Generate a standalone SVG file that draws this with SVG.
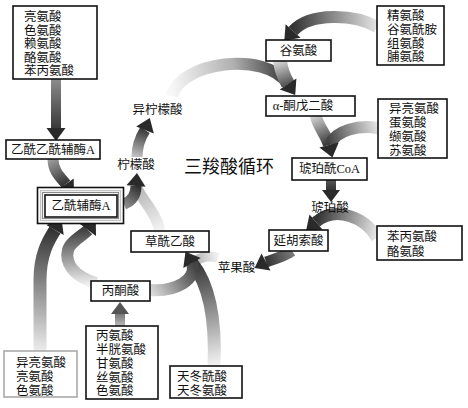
<svg xmlns="http://www.w3.org/2000/svg" width="468" height="408" viewBox="0 0 468 408">
<style>
.box{fill:#fff;stroke:#111;stroke-width:1.6}
.t{font-family:"Liberation Serif","Noto Sans CJK SC",serif;font-size:12.5px;fill:#111;dominant-baseline:central}
.c{text-anchor:middle}
.s{fill:none;stroke-linecap:butt}
.h{fill:#2a2a2a}
</style>
<defs>
<linearGradient id="gA" gradientUnits="userSpaceOnUse" x1="56" y1="79" x2="56" y2="128"><stop offset="0" stop-color="#8c8c8c"/><stop offset="1" stop-color="#3a3a3a"/></linearGradient>
<linearGradient id="gB" gradientUnits="userSpaceOnUse" x1="53" y1="159" x2="66" y2="184"><stop offset="0" stop-color="#9a9a9a"/><stop offset="1" stop-color="#333"/></linearGradient>
<linearGradient id="gC" gradientUnits="userSpaceOnUse" x1="124" y1="204" x2="136" y2="186"><stop offset="0" stop-color="#8a8a8a"/><stop offset="1" stop-color="#333"/></linearGradient>
<linearGradient id="gQ" gradientUnits="userSpaceOnUse" x1="160" y1="231" x2="137" y2="188"><stop offset="0" stop-color="#f4f4f4"/><stop offset="1" stop-color="#b5b5b5"/></linearGradient>
<linearGradient id="gD" gradientUnits="userSpaceOnUse" x1="137" y1="157" x2="145" y2="130"><stop offset="0" stop-color="#c0c0c0"/><stop offset="1" stop-color="#3a3a3a"/></linearGradient>
<linearGradient id="gE" gradientUnits="userSpaceOnUse" x1="172" y1="96" x2="288" y2="84"><stop offset="0" stop-color="#f8f8f8"/><stop offset="0.55" stop-color="#b0b0b0"/><stop offset="1" stop-color="#333"/></linearGradient>
<linearGradient id="gGlu" gradientUnits="userSpaceOnUse" x1="280" y1="61" x2="288" y2="84"><stop offset="0" stop-color="#d4d4d4"/><stop offset="1" stop-color="#555"/></linearGradient>
<linearGradient id="gH" gradientUnits="userSpaceOnUse" x1="377" y1="27" x2="293" y2="31"><stop offset="0" stop-color="#e4e4e4"/><stop offset="1" stop-color="#333"/></linearGradient>
<linearGradient id="gF" gradientUnits="userSpaceOnUse" x1="316" y1="116" x2="329" y2="145"><stop offset="0" stop-color="#cfcfcf"/><stop offset="1" stop-color="#333"/></linearGradient>
<linearGradient id="gG" gradientUnits="userSpaceOnUse" x1="378" y1="128" x2="330" y2="144"><stop offset="0" stop-color="#e4e4e4"/><stop offset="1" stop-color="#444"/></linearGradient>
<linearGradient id="gI" gradientUnits="userSpaceOnUse" x1="331" y1="180" x2="331" y2="190"><stop offset="0" stop-color="#555"/><stop offset="1" stop-color="#333"/></linearGradient>
<linearGradient id="gJ" gradientUnits="userSpaceOnUse" x1="377" y1="238" x2="316" y2="222"><stop offset="0" stop-color="#ececec"/><stop offset="1" stop-color="#333"/></linearGradient>
<linearGradient id="gK" gradientUnits="userSpaceOnUse" x1="292" y1="251" x2="266" y2="262"><stop offset="0" stop-color="#7a7a7a"/><stop offset="1" stop-color="#333"/></linearGradient>
<linearGradient id="gL" gradientUnits="userSpaceOnUse" x1="218" y1="258" x2="192" y2="263"><stop offset="0" stop-color="#f2f2f2"/><stop offset="1" stop-color="#aaa"/></linearGradient>
<linearGradient id="gAsp" gradientUnits="userSpaceOnUse" x1="214" y1="366" x2="192" y2="263"><stop offset="0" stop-color="#f4f4f4"/><stop offset="1" stop-color="#333"/></linearGradient>
<linearGradient id="gPyr" gradientUnits="userSpaceOnUse" x1="150" y1="290" x2="192" y2="263"><stop offset="0" stop-color="#dadada"/><stop offset="1" stop-color="#444"/></linearGradient>
<linearGradient id="gO" gradientUnits="userSpaceOnUse" x1="40" y1="351" x2="55" y2="230"><stop offset="0" stop-color="#ececec"/><stop offset="1" stop-color="#333"/></linearGradient>
<linearGradient id="gN" gradientUnits="userSpaceOnUse" x1="92" y1="285" x2="88" y2="230"><stop offset="0" stop-color="#f2f2f2"/><stop offset="1" stop-color="#444"/></linearGradient>
<linearGradient id="gP" gradientUnits="userSpaceOnUse" x1="120" y1="326" x2="120" y2="314"><stop offset="0" stop-color="#bbb"/><stop offset="1" stop-color="#777"/></linearGradient>
</defs>
<rect width="468" height="408" fill="#fff"/>

<g id="connectors">
  <path class="s" d="M56,79 L56,128" stroke="url(#gA)" stroke-width="10"/>
  <path class="s" d="M53,159 C53,171 60,177 66,184" stroke="url(#gB)" stroke-width="11"/>
  <path class="s" d="M160,231 C156,212 142,200 137,188" stroke="url(#gQ)" stroke-width="11"/>
  <path class="s" d="M124,204 C132,201 136,195 136,186" stroke="url(#gC)" stroke-width="11"/>
  <path class="s" d="M137,157 C137,146 140,138 145,130" stroke="url(#gD)" stroke-width="11"/>
  <path class="s" d="M172,96 C180,62 265,50 288,84" stroke="url(#gE)" stroke-width="12"/>
  <path class="s" d="M280,61 C281,70 284,77 288,84" stroke="url(#gGlu)" stroke-width="14"/>
  <path class="s" d="M377,27 C355,14 310,12 293,31" stroke="url(#gH)" stroke-width="12"/>
  <path class="s" d="M316,116 C318,127 326,134 329,145" stroke="url(#gF)" stroke-width="12"/>
  <path class="s" d="M378,128 C358,125 337,130 330,144" stroke="url(#gG)" stroke-width="12"/>
  <path class="s" d="M331,180 L331,190" stroke="url(#gI)" stroke-width="10"/>
  <path class="s" d="M377,238 C366,218 336,205 316,222" stroke="url(#gJ)" stroke-width="12"/>
  <path class="s" d="M292,251 C285,256 275,259 266,262" stroke="url(#gK)" stroke-width="11"/>
  <path class="s" d="M218,258 C210,255 200,257 192,263" stroke="url(#gL)" stroke-width="10"/>
  <path class="s" d="M214,366 C216,320 210,285 192,263" stroke="url(#gAsp)" stroke-width="13"/>
  <path class="s" d="M150,290 C175,292 198,280 192,263" stroke="url(#gPyr)" stroke-width="12"/>
  <path class="s" d="M40,351 L40,280 C40,255 48,241 55,230" stroke="url(#gO)" stroke-width="13"/>
  <path class="s" d="M96,283 C72,276 65,262 68,250 C70,242 82,236 88,230" stroke="url(#gN)" stroke-width="12"/>
  <path class="s" d="M120,326 L120,314" stroke="url(#gP)" stroke-width="10"/>
  <polygon class="h" points="56,141 46.5,128 65.5,128"/>
  <polygon class="h" points="74,195 73.7,178.4 58.3,189.6"/>
  <polygon class="h" points="137,173 145.5,186.7 126.5,185.3"/>
  <polygon class="h" points="149.8,117.9 153.8,133.5 136.2,126.5"/>
  <polygon class="h" points="295.2,94.9 296.4,78.5 279.7,89.5"/>
  <polygon class="h" points="284.3,40.7 300.5,37.7 285.6,24.3"/>
  <polygon class="h" points="332.4,157.5 338.7,142.4 319.4,147.6"/>
  <polygon class="h" points="331,202 322,190 340,190"/>
  <polygon class="h" points="306.1,230.4 322.5,229.6 309.5,214.4"/>
  <polygon class="h" points="254.6,268.1 270.5,270.4 261.5,253.6"/>
  <polygon class="h" points="185.5,251.7 200.7,258 183.3,268"/>
  <polygon class="h" points="61.5,218.7 63.7,235 46.3,225"/>
  <polygon class="h" points="95.8,219.6 96,236 80,224"/>
  <polygon points="120,302 111,314 129,314" fill="#555"/>
</g>

<g id="n-aa1">
  <rect class="box" x="13" y="6" width="84" height="73"/>
  <text class="t" x="24" y="17">亮氨酸</text>
  <text class="t" x="24" y="30.5">色氨酸</text>
  <text class="t" x="24" y="44">赖氨酸</text>
  <text class="t" x="24" y="57.5">酪氨酸</text>
  <text class="t" x="24" y="71">苯丙氨酸</text>
</g>
<g id="n-acetoacetyl">
  <rect class="box" x="6" y="140" width="94" height="19"/>
  <text class="t c" x="53" y="150">乙酰乙酰辅酶A</text>
</g>
<g id="n-acetylcoa">
  <rect class="box" x="37.5" y="187.5" width="86" height="36"/>
  <rect x="40.5" y="190.5" width="80" height="30" fill="none" stroke="#c4c4c4" stroke-width="1.2"/>
  <rect x="42.5" y="192.5" width="76" height="26" fill="none" stroke="#8a8a8a" stroke-width="1.2"/>
  <rect class="box" x="45" y="195" width="72" height="22"/>
  <text class="t c" x="81" y="206">乙酰辅酶A</text>
</g>
<g id="n-glu">
  <rect class="box" x="266" y="40" width="65" height="21"/>
  <text class="t c" x="298.5" y="51">谷氨酸</text>
</g>
<g id="n-aa2">
  <rect class="box" x="377" y="6" width="67" height="59"/>
  <text class="t" x="387" y="16">精氨酸</text>
  <text class="t" x="387" y="30">谷氨酰胺</text>
  <text class="t" x="387" y="43.5">组氨酸</text>
  <text class="t" x="387" y="57">脯氨酸</text>
</g>
<g id="n-akg">
  <rect class="box" x="266" y="96" width="89" height="20"/>
  <text class="t c" x="303" y="106">α-酮戊二酸</text>
</g>
<g id="n-aa3">
  <rect class="box" x="378" y="99" width="69" height="59"/>
  <text class="t" x="389" y="109">异亮氨酸</text>
  <text class="t" x="389" y="123">蛋氨酸</text>
  <text class="t" x="389" y="137">缬氨酸</text>
  <text class="t" x="389" y="151">苏氨酸</text>
</g>
<g id="n-succoa">
  <rect class="box" x="292" y="158" width="75" height="22"/>
  <text class="t c" x="329.5" y="169">琥珀酰CoA</text>
</g>
<g id="n-succ">
  <text class="t c" x="330" y="208">琥珀酸</text>
</g>
<g id="n-fum">
  <rect class="box" x="269" y="230" width="59" height="21"/>
  <text class="t c" x="298.5" y="241">延胡索酸</text>
</g>
<g id="n-aa4">
  <rect class="box" x="377" y="226" width="85" height="34"/>
  <text class="t" x="387" y="237">苯丙氨酸</text>
  <text class="t" x="387" y="252">酪氨酸</text>
</g>
<g id="n-mal">
  <text class="t c" x="236.5" y="268">苹果酸</text>
</g>
<g id="n-oaa">
  <rect class="box" x="131" y="231" width="78" height="21"/>
  <text class="t c" x="170" y="241.5">草酰乙酸</text>
</g>
<g id="n-pyr">
  <rect class="box" x="91" y="281" width="59" height="20"/>
  <text class="t c" x="120.5" y="291">丙酮酸</text>
</g>
<g id="n-aa5">
  <rect class="box" x="86" y="326" width="72" height="73"/>
  <text class="t" x="96" y="336">丙氨酸</text>
  <text class="t" x="96" y="350">半胱氨酸</text>
  <text class="t" x="96" y="364">甘氨酸</text>
  <text class="t" x="96" y="377.5">丝氨酸</text>
  <text class="t" x="96" y="391">色氨酸</text>
</g>
<g id="n-aa6">
  <rect x="4" y="351" width="73" height="46" fill="#fff" stroke="#aaa" stroke-width="1.6"/>
  <text class="t" x="16" y="363">异亮氨酸</text>
  <text class="t" x="16" y="377">亮氨酸</text>
  <text class="t" x="16" y="391">色氨酸</text>
</g>
<g id="n-aa7">
  <rect class="box" x="170" y="366" width="72" height="32"/>
  <text class="t" x="177" y="377">天冬酰酸</text>
  <text class="t" x="177" y="391">天冬氨酸</text>
</g>
<g id="n-isocit">
  <text class="t c" x="157.5" y="110">异柠檬酸</text>
</g>
<g id="n-cit">
  <text class="t c" x="136" y="165">柠檬酸</text>
</g>
<g id="n-title">
  <text class="t c" x="229" y="167" style="font-size:18px">三羧酸循环</text>
</g>
</svg>
